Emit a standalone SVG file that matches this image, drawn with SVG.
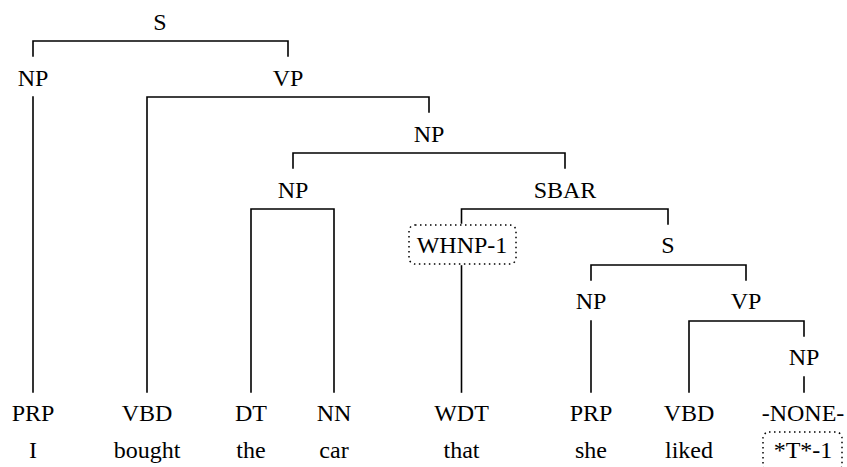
<svg xmlns="http://www.w3.org/2000/svg" width="847" height="467" viewBox="0 0 847 467">
  <style>
    .lbl { font-family: "Liberation Serif", "Times New Roman", serif; font-size: 24px; fill: #000; text-anchor: middle; }
    .edge { stroke: #000; stroke-width: 1.6; fill: none; stroke-linecap: square; }
    .trace { stroke: #000; stroke-width: 1.5; fill: none; stroke-dasharray: 1.5 3.5; }
  </style>
  <rect width="847" height="467" fill="#fff"/>

  <!-- tree branches -->
  <g id="connectors">
    <!-- S -> NP, VP -->
    <path class="edge" d="M33 56 V41 H288 V56"/>
    <!-- NP -> PRP -->
    <path class="edge" d="M33 97 V392"/>
    <!-- VP -> VBD, NP -->
    <path class="edge" d="M147 392 V97 H429 V112"/>
    <!-- NP -> NP, SBAR -->
    <path class="edge" d="M293 168 V153 H565 V168"/>
    <!-- NP -> DT, NN -->
    <path class="edge" d="M251 392 V209 H334 V392"/>
    <!-- SBAR -> WHNP-1, S -->
    <path class="edge" d="M461.5 223 V209 H668 V224"/>
    <!-- WHNP-1 -> WDT -->
    <path class="edge" d="M461.5 266 V392"/>
    <!-- S -> NP, VP -->
    <path class="edge" d="M591 280 V265 H746 V280"/>
    <!-- NP -> PRP -->
    <path class="edge" d="M591 321 V392"/>
    <!-- VP -> VBD, NP -->
    <path class="edge" d="M689 392 V321 H804 V336"/>
    <!-- NP -> -NONE- -->
    <path class="edge" d="M804 377 V392"/>
  </g>

  <!-- phrase nodes -->
  <g id="n-s-top"><text class="lbl" x="160" y="30">S</text></g>
  <g id="n-np-subj"><text class="lbl" x="33" y="86">NP</text></g>
  <g id="n-vp-main"><text class="lbl" x="288" y="86">VP</text></g>
  <g id="n-np-obj"><text class="lbl" x="429" y="142">NP</text></g>
  <g id="n-np-car"><text class="lbl" x="293" y="198">NP</text></g>
  <g id="n-sbar"><text class="lbl" x="565" y="198">SBAR</text></g>
  <g id="n-whnp">
    <rect class="trace" x="409" y="225" width="107" height="39" rx="6"/>
    <text class="lbl" x="462" y="253">WHNP-1</text>
  </g>
  <g id="n-s-rel"><text class="lbl" x="668" y="253">S</text></g>
  <g id="n-np-she"><text class="lbl" x="591" y="309">NP</text></g>
  <g id="n-vp-liked"><text class="lbl" x="746" y="309">VP</text></g>
  <g id="n-np-trace"><text class="lbl" x="804" y="365">NP</text></g>

  <!-- part-of-speech tags and words -->
  <g id="w-i"><text class="lbl" x="33" y="421">PRP</text><text class="lbl" x="33" y="458">I</text></g>
  <g id="w-bought"><text class="lbl" x="147" y="421">VBD</text><text class="lbl" x="147" y="458">bought</text></g>
  <g id="w-the"><text class="lbl" x="251" y="421">DT</text><text class="lbl" x="251" y="458">the</text></g>
  <g id="w-car"><text class="lbl" x="334" y="421">NN</text><text class="lbl" x="334" y="458">car</text></g>
  <g id="w-that"><text class="lbl" x="461.5" y="421">WDT</text><text class="lbl" x="461.5" y="458">that</text></g>
  <g id="w-she"><text class="lbl" x="591" y="421">PRP</text><text class="lbl" x="591" y="458">she</text></g>
  <g id="w-liked"><text class="lbl" x="689" y="421">VBD</text><text class="lbl" x="689" y="458">liked</text></g>
  <g id="w-trace">
    <text class="lbl" x="803" y="421">-NONE-</text>
    <rect class="trace" x="763" y="432" width="79" height="39" rx="6"/>
    <text class="lbl" x="803" y="458">*T*-1</text>
  </g>
</svg>
